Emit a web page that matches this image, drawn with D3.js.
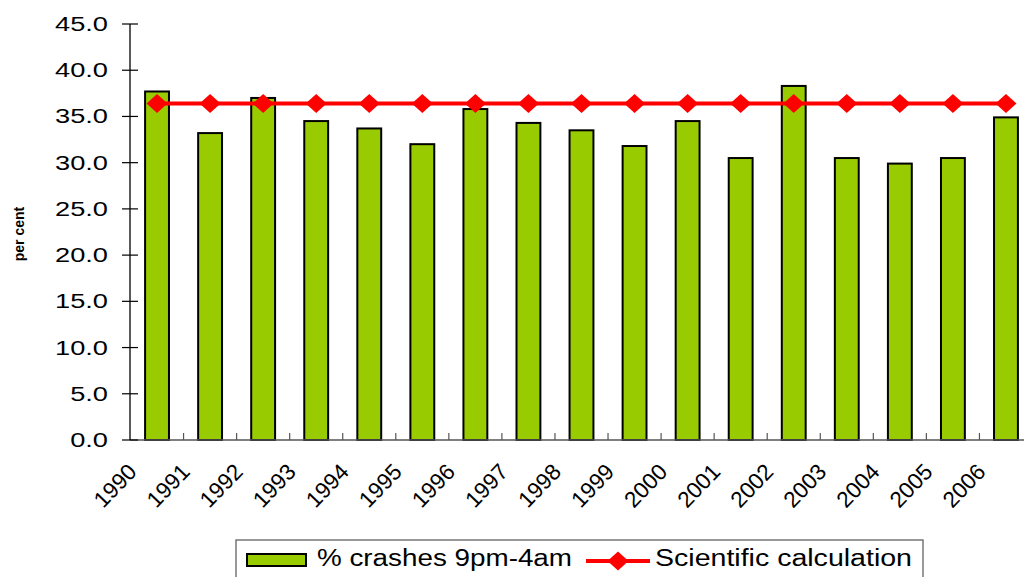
<!DOCTYPE html>
<html><head><meta charset="utf-8">
<script src="https://cdnjs.cloudflare.com/ajax/libs/d3/7.8.5/d3.min.js"></script>
<style>body{margin:0;background:#fff}svg{display:block}text{font-family:"Liberation Sans",Arial,sans-serif;fill:#000}</style>
</head><body><svg id="c" width="1024" height="577"></svg>
<script>
const years = ["1990","1991","1992","1993","1994","1995","1996","1997","1998","1999","2000","2001","2002","2003","2004","2005","2006"];
const crashes = [37.7,33.2,37.0,34.5,33.7,32.0,35.8,34.3,33.5,31.8,34.5,30.5,38.3,30.5,29.9,30.5,34.9];
const scientific = [36.4,36.4,36.4,36.4,36.4,36.4,36.4,36.4,36.4,36.4,36.4,36.4,36.4,36.4,36.4,36.4,36.4];
const yTicks = [0,5,10,15,20,25,30,35,40,45];
const seriesNames = ["% crashes 9pm-4am","Scientific calculation"];
const yTitle = "per cent";

const svg = d3.select("#c");
const x = d3.scaleBand().domain(years).range([130.5,1032.5]).paddingInner(0.55).paddingOuter(0.275);
const y = d3.scaleLinear().domain([0,45]).range([440,24]);
const green = "#99CC00", red = "#FF0000";
const step = x.step(), gap = step - x.bandwidth();

// bars
svg.append("g").selectAll("rect").data(years).join("rect")
  .attr("x", d=>x(d)).attr("width", x.bandwidth())
  .attr("y", (d,i)=>y(crashes[i])).attr("height", (d,i)=>y(0)-y(crashes[i]))
  .attr("fill", green).attr("stroke","#000").attr("stroke-width",2);

// x axis line and boundary ticks
svg.append("line").attr("x1",130).attr("x2",1024).attr("y1",y(0)).attr("y2",y(0)).attr("stroke","#555").attr("stroke-width",1.5);
svg.append("g").selectAll("line").data(years.slice(1)).join("line")
  .attr("x1",d=>x(d)-gap/2).attr("x2",d=>x(d)-gap/2).attr("y1",y(0)).attr("y2",y(0)-7)
  .attr("stroke","#555").attr("stroke-width",1.2);

// y axis
svg.append("line").attr("x1",130).attr("x2",130).attr("y1",y(45)).attr("y2",y(0)).attr("stroke","#000").attr("stroke-width",1.3);
const yt = svg.append("g").selectAll("g").data(yTicks).join("g").attr("transform",d=>`translate(0,${y(d)})`);
yt.append("line").attr("x1",122).attr("x2",138).attr("stroke","#000").attr("stroke-width",1.2);
yt.append("text").attr("x",108).attr("y",7).attr("text-anchor","end").attr("font-size",20)
  .text(d=>d.toFixed(1))
  .each(function(){const w=this.getComputedTextLength();d3.select(this).attr("textLength",w*1.36).attr("lengthAdjust","spacingAndGlyphs");});

// x labels
svg.append("g").selectAll("text").data(years).join("text")
  .attr("transform",d=>`translate(${x(d)+x.bandwidth()/2-19},${473}) rotate(-46)`)
  .attr("text-anchor","end").attr("font-size",22.5).text(d=>d);

// y title
svg.append("text").attr("transform","translate(24,234) rotate(-90)").attr("text-anchor","middle")
  .attr("font-size",14).attr("font-weight","bold").text(yTitle);

// line series
const cx = d=>x(d)+x.bandwidth()/2;
const line = d3.line().x((d,i)=>cx(years[i])).y(d=>y(d));
svg.append("path").datum(scientific).attr("d",line).attr("fill","none").attr("stroke",red).attr("stroke-width",4);
const diamond = "M0,-9.5L10.5,0L0,9.5L-10.5,0Z";
svg.append("g").selectAll("path").data(scientific).join("path")
  .attr("d",diamond).attr("transform",(d,i)=>`translate(${cx(years[i])},${y(d)})`).attr("fill",red);

// legend
const lg = svg.append("g");
lg.append("rect").attr("x",236).attr("y",540).attr("width",687).attr("height",60).attr("fill","#fff").attr("stroke","#555").attr("stroke-width",1.2);
lg.append("rect").attr("x",247).attr("y",554).attr("width",59).attr("height",12).attr("fill",green).attr("stroke","#000").attr("stroke-width",2);
lg.append("text").attr("x",317).attr("y",566).attr("font-size",23).text(seriesNames[0])
  .attr("textLength",255).attr("lengthAdjust","spacingAndGlyphs");
lg.append("line").attr("x1",586).attr("x2",650).attr("y1",561).attr("y2",561).attr("stroke",red).attr("stroke-width",4);
lg.append("path").attr("d",diamond).attr("transform","translate(618,561)").attr("fill",red);
lg.append("text").attr("x",655).attr("y",566).attr("font-size",23).text(seriesNames[1])
  .attr("textLength",257).attr("lengthAdjust","spacingAndGlyphs");
</script></body></html>
